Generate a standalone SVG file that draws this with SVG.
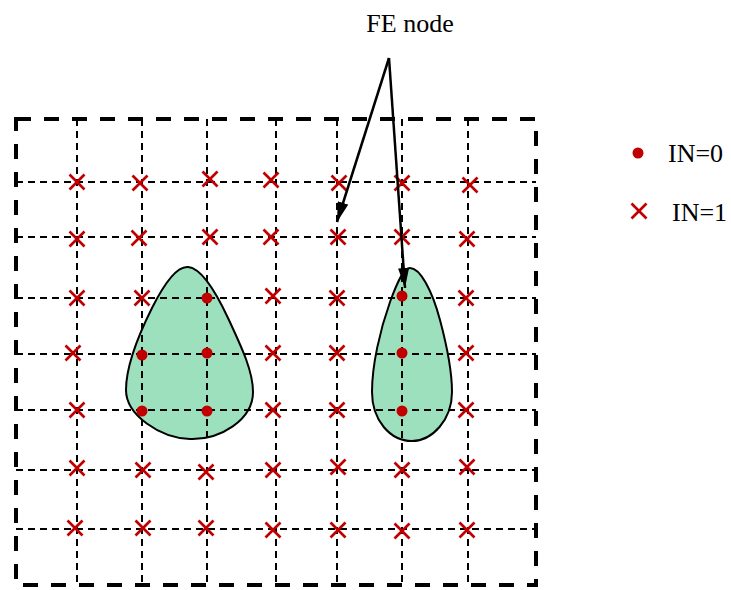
<svg xmlns="http://www.w3.org/2000/svg" xmlns:xlink="http://www.w3.org/1999/xlink" width="731" height="590" viewBox="0 0 731 590">
<style>
.frame{fill:none;stroke:#000;stroke-width:4;stroke-dasharray:15 13}
.grid line{stroke:#000;stroke-width:2;stroke-dasharray:7 5}
.blob{fill:#9de0bd;stroke:#000;stroke-width:2}
.x line{stroke:#c00000;stroke-width:2.7}
.dot{fill:#c00000}
.arrow{stroke:#000;stroke-width:2.5;fill:none;marker-end:url(#ah)}
.lbl{font-family:'Liberation Serif','Times New Roman',serif;font-size:26px;fill:#000}
</style>
<defs>
<g id="cross" class="x"><line x1="-7.5" y1="-7.5" x2="7.5" y2="7.5"/><line x1="-7.5" y1="7.5" x2="7.5" y2="-7.5"/></g>
<marker id="ah" markerUnits="userSpaceOnUse" markerWidth="20" markerHeight="11" refX="20" refY="5.5" orient="auto"><path d="M0,0 L20,5.5 L0,11 z" fill="#000"/></marker>
</defs>
<rect fill="#fff" x="0" y="0" width="731" height="590"/>
<g id="regions">
<path id="blob-left" class="blob" d="M188,267 C200,268 214,288 228,318 C243,350 253,372 253,392 C253,420 220,440 190,439 C160,438 126,415 126,390 C126,368 137,338 152,308 C165,282 177,266 188,267 Z"/>
<path id="blob-right" class="blob" d="M410,268 C420,268 432,290 440,320 C448,350 452,372 452,392 C452,420 432,441 412,441 C390,441 372,420 372,392 C372,365 380,330 390,302 C398,280 404,268 410,268 Z"/>
</g>
<g id="frame"><rect class="frame" x="16" y="119" width="520" height="466"/></g>
<g id="grid" class="grid">
<line x1="77" y1="119" x2="77" y2="585"/>
<line x1="142" y1="119" x2="142" y2="585"/>
<line x1="207" y1="119" x2="207" y2="585"/>
<line x1="276" y1="119" x2="276" y2="585"/>
<line x1="337" y1="119" x2="337" y2="585"/>
<line x1="402" y1="119" x2="402" y2="585"/>
<line x1="468" y1="119" x2="468" y2="585"/>
<line x1="16" y1="182" x2="536" y2="182"/>
<line x1="16" y1="237" x2="536" y2="237"/>
<line x1="16" y1="298" x2="536" y2="298"/>
<line x1="16" y1="354" x2="536" y2="354"/>
<line x1="16" y1="410" x2="536" y2="410"/>
<line x1="16" y1="470" x2="536" y2="470"/>
<line x1="16" y1="529" x2="536" y2="529"/>
</g>
<g id="points">
<use xlink:href="#cross" x="77" y="182"/><use xlink:href="#cross" x="140" y="183"/><use xlink:href="#cross" x="210" y="179"/><use xlink:href="#cross" x="271" y="180"/><use xlink:href="#cross" x="339" y="183"/><use xlink:href="#cross" x="402" y="183"/><use xlink:href="#cross" x="470" y="185"/>
<use xlink:href="#cross" x="77" y="239"/><use xlink:href="#cross" x="139" y="238"/><use xlink:href="#cross" x="210" y="237"/><use xlink:href="#cross" x="271" y="237"/><use xlink:href="#cross" x="338" y="237"/><use xlink:href="#cross" x="402" y="237"/><use xlink:href="#cross" x="467" y="239"/>
<use xlink:href="#cross" x="77" y="298"/><use xlink:href="#cross" x="142" y="298"/><use xlink:href="#cross" x="273" y="296"/><use xlink:href="#cross" x="337" y="298"/><use xlink:href="#cross" x="466" y="298"/>
<use xlink:href="#cross" x="73" y="353"/><use xlink:href="#cross" x="273" y="353"/><use xlink:href="#cross" x="337" y="353"/><use xlink:href="#cross" x="466" y="353"/>
<use xlink:href="#cross" x="77" y="410"/><use xlink:href="#cross" x="273" y="410"/><use xlink:href="#cross" x="337" y="410"/><use xlink:href="#cross" x="466" y="410"/>
<use xlink:href="#cross" x="77" y="468"/><use xlink:href="#cross" x="143" y="470"/><use xlink:href="#cross" x="206" y="472"/><use xlink:href="#cross" x="273" y="470"/><use xlink:href="#cross" x="338" y="467"/><use xlink:href="#cross" x="402" y="470"/><use xlink:href="#cross" x="467" y="467"/>
<use xlink:href="#cross" x="75" y="528"/><use xlink:href="#cross" x="143" y="528"/><use xlink:href="#cross" x="206" y="528"/><use xlink:href="#cross" x="273" y="530"/><use xlink:href="#cross" x="338" y="530"/><use xlink:href="#cross" x="402" y="531"/><use xlink:href="#cross" x="467" y="530"/>
<circle class="dot" cx="207" cy="298" r="5.5"/><circle class="dot" cx="402" cy="296" r="5.5"/>
<circle class="dot" cx="142" cy="355" r="5.5"/><circle class="dot" cx="207" cy="353" r="5.5"/><circle class="dot" cx="402" cy="353" r="5.5"/>
<circle class="dot" cx="142" cy="411" r="5.5"/><circle class="dot" cx="207" cy="411" r="5.5"/><circle class="dot" cx="402" cy="411" r="5.5"/>
</g>
<g id="connectors">
<line class="arrow" x1="389" y1="58" x2="337" y2="222"/>
<line class="arrow" x1="389" y1="58" x2="405" y2="288"/>
</g>
<g id="label-fe"><text class="lbl" font-family="Liberation Serif, serif" x="410" y="32" text-anchor="middle">FE node</text></g>
<g id="legend">
<g id="legend-in0"><circle class="dot" cx="638" cy="153" r="5.5"/><text class="lbl" font-family="Liberation Serif, serif" x="668" y="162">IN=0</text></g>
<g id="legend-in1"><use xlink:href="#cross" x="639" y="211"/><text class="lbl" font-family="Liberation Serif, serif" x="672" y="221">IN=1</text></g>
</g>
</svg>
